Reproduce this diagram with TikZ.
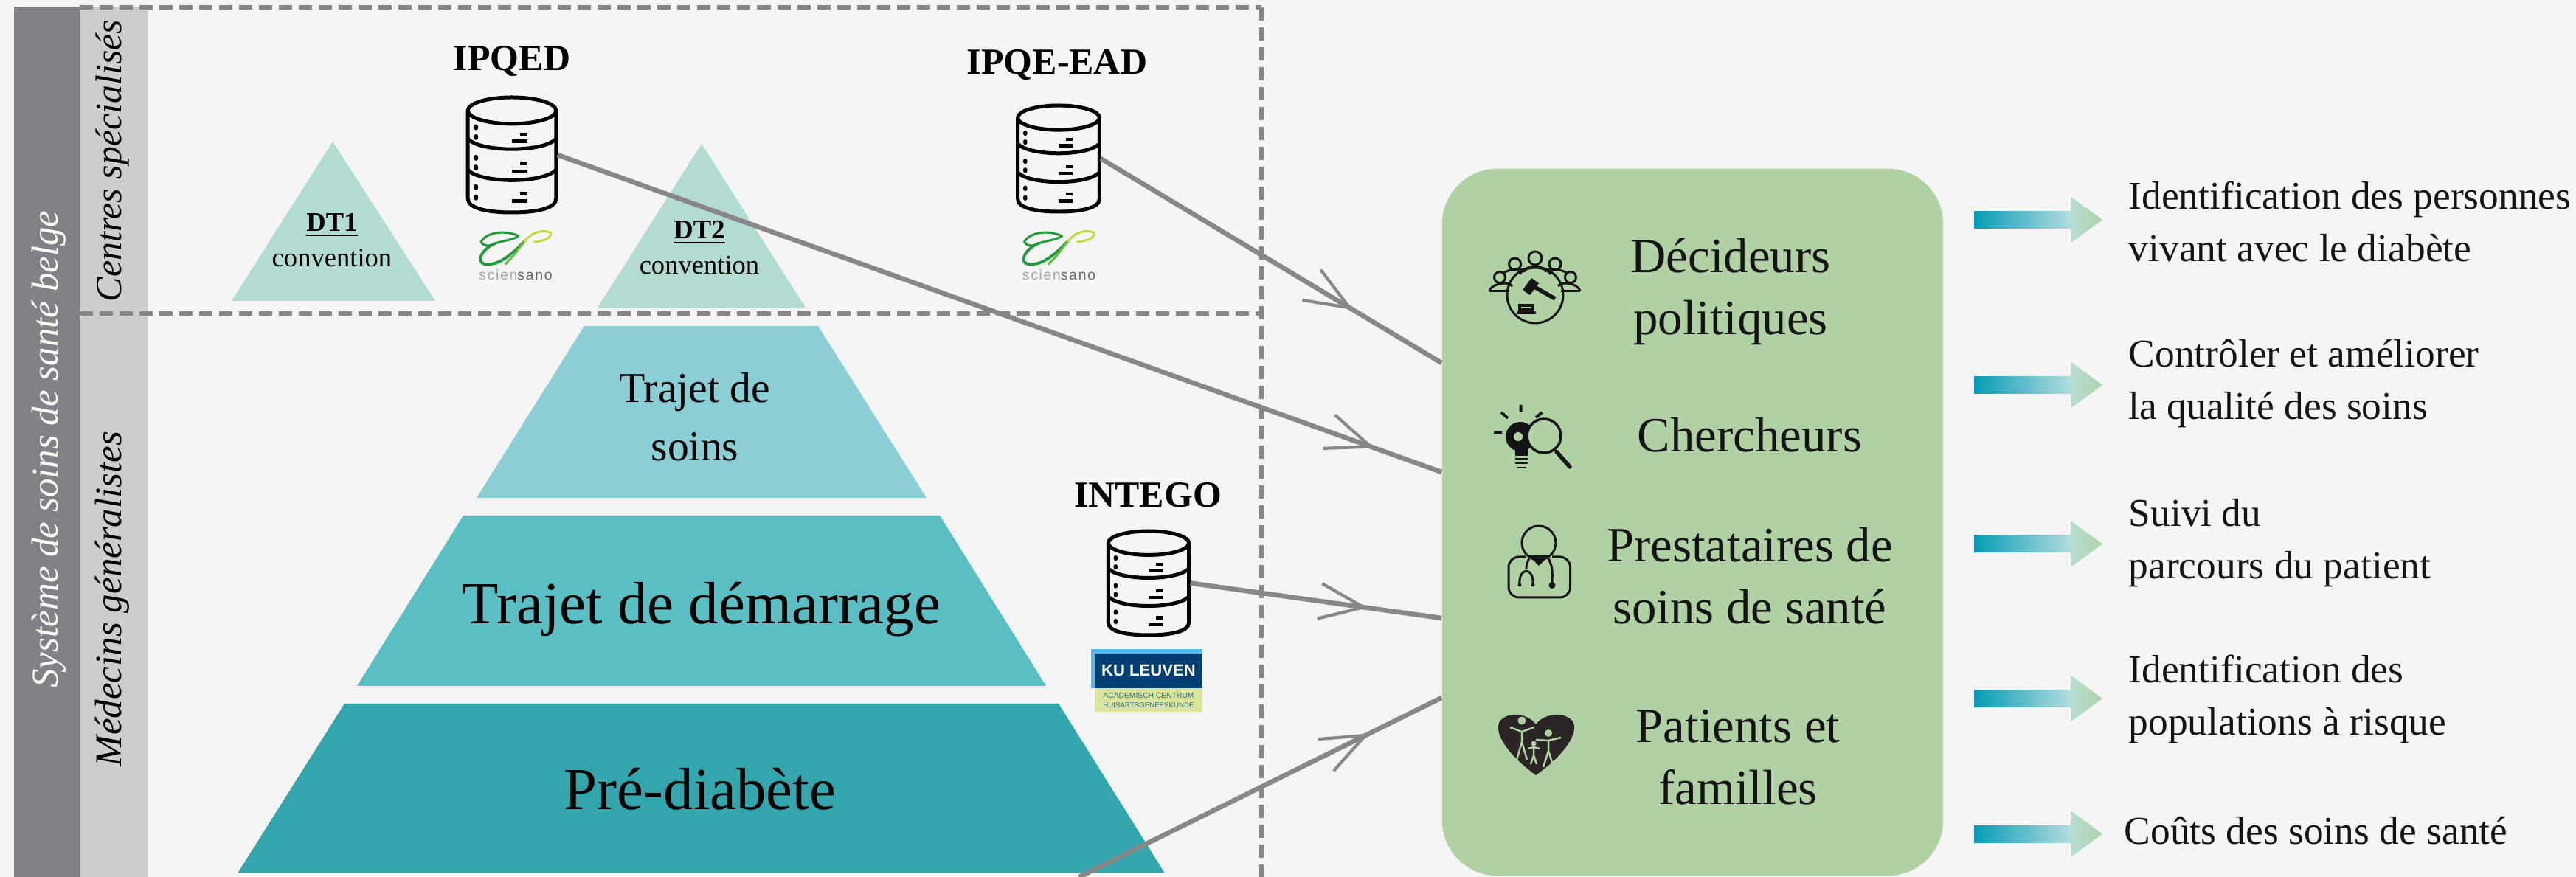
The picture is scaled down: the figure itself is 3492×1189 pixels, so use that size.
\documentclass[tikz,border=0pt]{standalone}
\usepackage{fontspec}
\usepackage{graphicx}
\setmainfont{Liberation Serif}
\newfontfamily\logosans{Liberation Sans}
\newfontfamily\logospaced[LetterSpace=9]{Liberation Sans}
\usetikzlibrary{decorations.markings,calc}
\definecolor{pagebg}{HTML}{F5F5F5}
\definecolor{banddark}{HTML}{808285}
\definecolor{bandlight}{HTML}{CDCDCD}
\definecolor{dashgray}{HTML}{868686}
\definecolor{linegray}{HTML}{878787}
\definecolor{mint}{HTML}{B2DBD3}
\definecolor{pyrtop}{HTML}{8CCED6}
\definecolor{pyrmid}{HTML}{5ABEC2}
\definecolor{pyrlow}{HTML}{33A6AD}
\definecolor{boxgreen}{HTML}{B0D1A3}
\definecolor{inkdark}{HTML}{141414}
\definecolor{arrowa}{HTML}{069BB5}
\definecolor{arrowb}{HTML}{B2DDDD}
\definecolor{arrowh}{HTML}{B6DDD2}
\definecolor{arrowc}{HTML}{AFD4A8}
\definecolor{kunavy}{HTML}{003F73}
\definecolor{kublue}{HTML}{52BDEC}
\definecolor{kuyellow}{HTML}{DCE39B}
\definecolor{kutext}{HTML}{2F6F7D}
\definecolor{logodark}{HTML}{1F9A3C}
\definecolor{logomid}{HTML}{6CBB45}
\definecolor{logolight}{HTML}{C5DA3F}
\definecolor{hearty}{HTML}{2B2526}
\newcommand{\dbicon}[5]{%
  \node[inner sep=0pt,minimum width=#4*0.01cm,minimum height=#5*0.01cm] (#1) at (#2,#3) {};
  \begin{scope}[shift={(#2,#3)},xscale=#4/100,yscale=#5/100,draw=black,line width=0.05cm]
    \draw (0,-38.5) ellipse [x radius=49,y radius=11.5];
    \draw (-49,-38) -- (-49,38) .. controls (-49,47) and (-25,50) .. (0,50) .. controls (25,50) and (49,47) .. (49,38) -- (49,-38);
    \draw (-49,-14) .. controls (-35,-2) and (35,-2) .. (49,-14);
    \draw (-49,13) .. controls (-35,25) and (35,25) .. (49,13);
    \fill (-40,-24) circle [radius=2.6] (-40,-15.5) circle [radius=2.6]
          (-40,2.5) circle [radius=2.6] (-40,11) circle [radius=2.6]
          (-40,28) circle [radius=2.6] (-40,37) circle [radius=2.6];
    \draw[line width=0.045cm] (9,-18) -- (17,-18) (0,-12) -- (17,-12)
          (9,7.5) -- (17,7.5) (0,14) -- (17,14)
          (9,33.5) -- (17,33.5) (0,40) -- (17,40);
  \end{scope}}
\newcommand{\sciensanologo}[3]{%
  \begin{scope}[shift={(#2,335)},line width=0.03cm,line cap=round]
    \draw[logodark] (-47,-7) .. controls (-40,-20) and (-15,-24) .. (4,-15);
    \draw[logodark] (-47,-7) .. controls (-42,0) and (-35,-1) .. (-28,-5) .. controls (-15,-9) and (-3,-10) .. (4,-15);
    \draw[logodark,line width=0.038cm] (-28,-5) .. controls (-45,2) and (-55,20) .. (-42,23) .. controls (-25,25) and (-10,15) .. (12,-8);
    \draw[logomid] (-14,23) .. controls (0,10) and (5,0) .. (14,-10);
    \draw[logolight] (12,-8) .. controls (22,-20) and (35,-24) .. (47,-20) .. controls (50,-14) and (40,-8) .. (25,-7);
  \end{scope}
  \node[logotext] (#1) at (#3,380) {{\color{black!35}scien}{\color{black!60}sano}};}
\newcommand{\gradarrow}[1]{%
  \shade[left color=arrowa,right color=arrowb]
    (2676,#1-11.5) rectangle (2807,#1+11.5);
  \shade[left color=arrowh,right color=arrowc]
    (2807,#1-31.5) -- (2850,#1) -- (2807,#1+31.5) -- cycle;}
\tikzset{
  dashline/.style={draw=dashgray,line width=0.065cm,dash pattern=on 0.18cm off 0.09cm},
  bandlabel/.style={rotate=90,anchor=base,inner sep=0pt,font=\fontsize{14.2}{17}\selectfont\itshape},
  dbname/.style={anchor=center,inner sep=0pt,font=\fontsize{14.2}{17}\selectfont\bfseries},
  triangletext/.style={anchor=base,inner sep=0pt,align=center,font=\fontsize{10.4}{13.7}\selectfont},
  pyrtext/.style={anchor=base,inner sep=0pt,align=center},
  boxtext/.style={anchor=base,inner sep=0pt,align=center,text=inkdark,font=\fontsize{19}{24.1}\selectfont},
  goaltext/.style={anchor=base west,inner sep=0pt,align=left,text=inkdark,font=\fontsize{15.2}{20.2}\selectfont},
  logotext/.style={anchor=base,inner sep=0pt,font=\logospaced\fontsize{5.5}{7}\selectfont},
  connector/.style={draw=linegray,line width=0.065cm,postaction={decorate},
    decoration={markings,mark=at position #1 with {\draw[draw=linegray,line width=0.042cm] (-0.6cm,-0.24cm) -- (0,0) -- (-0.6cm,0.24cm);}}},
  iconline/.style={draw=inkdark,line width=0.03cm},
}
\begin{document}
\begin{tikzpicture}[x=0.01cm,y=-0.01cm]
\useasboundingbox (0,0) rectangle (3492,1189);
\fill[pagebg] (0,0) rectangle (3492,1189);
% side bands
\fill[banddark] (19,9) rectangle (108,1189);
\fill[bandlight] (108,9) rectangle (200,1189);
\node[bandlabel,text=white,font=\fontsize{14.5}{17}\selectfont\itshape] (systeme) at (78,609) {Système de soins de santé belge};
\node[bandlabel] (centres) at (164,218) {Centres spécialisés};
\node[bandlabel,font=\fontsize{14.5}{17}\selectfont\itshape] (medecins) at (164,812) {Médecins généralistes};
% dashed frame
\draw[dashline] (108,10) -- (1710,10);
\draw[dashline] (108,425) -- (1710,425);
\draw[dashline] (1710,10) -- (1710,1189);
% triangles
\fill[mint] (451,192) -- (590,408) -- (314,408) -- cycle;
\fill[mint] (951,195) -- (1092,417) -- (810,417) -- cycle;
\node[triangletext] (dtone) at (450,362) {\textbf{\underline{DT1}}\\convention};
\node[triangletext] (dttwo) at (948,372) {\textbf{\underline{DT2}}\\convention};
% pyramid
\fill[pyrtop] (792,442) -- (1109,442) -- (1256,675) -- (646,675) -- cycle;
\fill[pyrmid] (628,699) -- (1274,699) -- (1418,930) -- (484,930) -- cycle;
\fill[pyrlow] (467,954) -- (1435,954) -- (1579,1184) -- (322,1184) -- cycle;
\node[pyrtext,font=\fontsize{16.4}{22.6}\selectfont] (trajetsoins) at (942,625) {Trajet de\\soins};
\node[pyrtext,font=\fontsize{23}{27}\selectfont] (trajetdem) at (951,846) {Trajet de démarrage};
\node[pyrtext,font=\fontsize{23}{27}\selectfont] (prediab) at (949,1098) {Pré-diabète};
% databases
\node[dbname] (ipqed) at (694,83) {IPQED};
\node[dbname] (ipqeead) at (1433,88) {IPQE-EAD};
\node[dbname] (intego) at (1556,671) {INTEGO};
\dbicon{dbA}{694}{210}{122}{156}
\dbicon{dbB}{1435}{215}{113}{144}
\dbicon{dbC}{1557}{790.5}{111.5}{141}
% logos
\sciensanologo{logoA}{699}{699}
\sciensanologo{logoB}{1435.5}{1435.5}
\fill[kublue] (1478.6,880) rectangle (1630,933);
\fill[kunavy] (1484,886) rectangle (1630,933);
\fill[kuyellow] (1484,933) rectangle (1630,965);
\node[inner sep=0pt,text=white] (kuname) at (1557,909.5) {\resizebox{1.275cm}{!}{\logosans\bfseries KU LEUVEN}};
\node[inner sep=0pt,text=kutext] (kuline) at (1557,943) {\resizebox{1.23cm}{!}{\logosans ACADEMISCH CENTRUM}};
\node[inner sep=0pt,text=kutext] (kulinetwo) at (1557,956) {\resizebox{1.23cm}{!}{\logosans HUISARTSGENEESKUNDE}};
% green box
\node[fill=boxgreen,rounded corners=0.75cm,minimum width=6.79cm,minimum height=9.58cm,inner sep=0pt] (box) at (2294.5,708) {};
\coordinate (boxA) at (box.west |- 0,492);
\coordinate (boxB) at (box.west |- 0,640);
\coordinate (boxC) at (box.west |- 0,838);
\coordinate (boxD) at (box.west |- 0,946);
\coordinate (prefoot) at (1463,1189);
% connectors
\draw[connector=0.92] (dbA.east) -- (boxB);
\draw[connector=0.73] (dbB.east) -- (boxA);
\draw[connector=0.69] (dbC.east) -- (boxC);
\draw[connector=0.79] (prefoot) -- (boxD);
% box texts
\node[boxtext] (decideurs) at (2346,454) {Décideurs\\politiques};
\node[boxtext] (chercheurs) at (2372,613) {Chercheurs};
\node[boxtext] (prestataires) at (2372,846) {Prestataires de\\soins de santé};
\node[boxtext] (patients) at (2356,1091) {Patients et\\familles};
% icon: policy makers
\draw[iconline] (2081,400) circle [radius=38];
\draw[iconline] (2081,350) circle [radius=9] (2053.6,358) circle [radius=8] (2108,358) circle [radius=8] (2033,376) circle [radius=7.5] (2129,376) circle [radius=7.5];
\draw[iconline] (2060,372) .. controls (2066,360) and (2096,360) .. (2102,372);
\draw[iconline] (2019,395) .. controls (2020,385) and (2045,380) .. (2050,388);
\draw[iconline] (2142,395) .. controls (2141,385) and (2117,380) .. (2112,388);
\draw[iconline] (2019,395) -- (2046,395) (2116,395) -- (2142,395);
\draw[iconline] (2037,372) .. controls (2040,366) and (2060,362) .. (2068,368);
\draw[iconline] (2125,372) .. controls (2122,366) and (2102,362) .. (2094,368);
\fill[inkdark] (2064,393) -- (2076,377) -- (2086,384) -- (2074,400) -- cycle;
\draw[inkdark,line width=0.055cm] (2080,389) -- (2108,405);
\draw[iconline,line width=0.04cm] (2060,414) rectangle (2078,420) (2056,424) -- (2082,424);
% icon: researchers
\fill[inkdark] (2061,592) circle [radius=20];
\fill[boxgreen] (2058,592) circle [radius=6];
\fill[inkdark] (2054,608) rectangle (2071,618);
\draw[inkdark,line width=0.028cm] (2053.6,622) -- (2071.4,622) (2054,628) -- (2071,628) (2056,634) -- (2069,634);
\draw[inkdark,line width=0.038cm] (2061.6,549) -- (2061.6,559) (2035,559) -- (2044,567) (2090.6,559) -- (2082,566) (2025,586) -- (2036,586);
\fill[boxgreen] (2093,591) circle [radius=23];
\draw[inkdark,line width=0.035cm] (2093,591) circle [radius=23];
\draw[inkdark,line width=0.055cm,line cap=round] (2110,612.5) -- (2128,633);
% icon: providers
\draw[iconline] (2086,736) circle [radius=23];
\draw[iconline,rounded corners=0.14cm] (2068,755) -- (2045,755) -- (2045,810) -- (2128.6,810) -- (2128.6,755) -- (2104,755);
\fill[inkdark] (2072,753) -- (2086,767) -- (2100,753) -- cycle;
\draw[iconline] (2099,757) .. controls (2106,770) and (2104,780) .. (2104,793);
\fill[inkdark] (2104,793.5) circle [radius=4.5];
\draw[iconline] (2073,757) .. controls (2070,762) and (2069,768) .. (2069,771);
\draw[iconline] (2060,793) .. controls (2058,768) and (2080,768) .. (2078,793);
\fill[inkdark] (2060,793) circle [radius=2.5] (2078,793) circle [radius=2.5];
% icon: patients and families
\fill[hearty] (2082,982) .. controls (2072,968) and (2045,963) .. (2033,978) .. controls (2025,992) and (2040,1020) .. (2082,1051) .. controls (2125,1020) and (2140,992) .. (2132,978) .. controls (2120,963) and (2092,968) .. (2082,982) -- cycle;
\begin{scope}[draw=boxgreen,fill=boxgreen,line width=0.025cm]
  \fill (2063,977) circle [radius=5.5] (2099,994) circle [radius=5] (2079,1008) circle [radius=3.5];
  \draw (2047,986) -- (2063,992) -- (2080,986) (2063,992) -- (2063,1006) (2063,1006) -- (2056,1030) (2063,1006) -- (2070,1030);
  \draw (2082,1003) -- (2099,1004) -- (2116,1000) (2099,1004) -- (2099,1018) -- (2092,1040) (2099,1018) -- (2106,1040);
  \draw (2071,1015) -- (2079,1013) -- (2087,1015) (2079,1013) -- (2079,1024) -- (2075,1036) (2079,1024) -- (2083,1036);
\end{scope}
% output arrows
\gradarrow{298}
\gradarrow{522}
\gradarrow{737.5}
\gradarrow{947}
\gradarrow{1130.6}
\node[goaltext] (goalA) at (2885,355) {Identification des personnes\\vivant avec le diabète};
\node[goaltext] (goalB) at (2885,569) {Contrôler et améliorer\\la qualité des soins};
\node[goaltext] (goalC) at (2885,785) {Suivi du\\parcours du patient};
\node[goaltext] (goalD) at (2885,997) {Identification des\\populations à risque};
\node[goaltext] (goalE) at (2879,1145) {Coûts des soins de santé};
\end{tikzpicture}
\end{document}
